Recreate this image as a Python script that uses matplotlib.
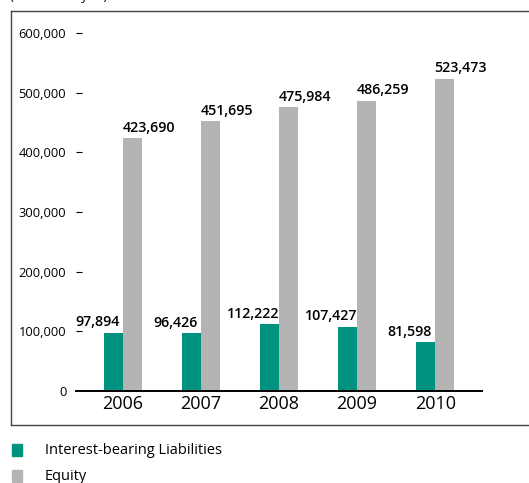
import matplotlib
matplotlib.use("Agg")
import matplotlib.pyplot as plt
import numpy as np
from matplotlib.lines import Line2D
from matplotlib.patches import Rectangle

plt.rcParams['font.family'] = ['Open Sans', 'DejaVu Sans']

years = ["2006", "2007", "2008", "2009", "2010"]
liabilities = [97894, 96426, 112222, 107427, 81598]
equity = [423690, 451695, 475984, 486259, 523473]
y_ticks = [0, 100000, 200000, 300000, 400000, 500000, 600000]
series_names = ["Interest-bearing Liabilities", "Equity"]
unit_text = "(Millions of yen)"

teal = "#00927f"
gray = "#b4b4b4"

W, H = 529, 483
fig = plt.figure(figsize=(W / 100, H / 100), dpi=100)

# frame around the chart area
def fx(px):
    return px / W

def fy(py):
    return 1 - py / H

fig.add_artist(Line2D([fx(10.5), fx(10.5)], [fy(10.5), fy(424.5)], color="#444444", lw=1.0))
fig.add_artist(Line2D([fx(10.5), 1.0], [fy(10.5), fy(10.5)], color="#444444", lw=1.0))
fig.add_artist(Line2D([fx(10.5), 1.0], [fy(424.5), fy(424.5)], color="#444444", lw=1.0))

fig.text(fx(10), fy(0), unit_text, fontsize=9.5, ha="left", va="baseline")

ax = fig.add_axes([fx(76), fy(391), fx(482) - fx(76), fy(33) - fy(391)])
x = np.arange(len(years))
bw = 0.24
ax.bar(x - bw / 2, liabilities, width=bw, color=teal, linewidth=0)
ax.bar(x + bw / 2, equity, width=bw, color=gray, linewidth=0)

for xi, v in zip(x, liabilities):
    ax.annotate(f"{v:,}", (xi - 0.33, v), xytext=(0, 2.5), textcoords="offset points",
                ha="center", va="bottom", fontsize=10.3, fontweight="semibold")
for xi, v in zip(x, equity):
    ax.annotate(f"{v:,}", (xi + 0.33, v), xytext=(0, 2.5), textcoords="offset points",
                ha="center", va="bottom", fontsize=10.3, fontweight="semibold")

ax.set_xlim(-0.6, 4.6)
ax.set_ylim(0, 600000)
ax.set_yticks(y_ticks)
ax.set_yticklabels([f"{t:,}" for t in y_ticks], fontsize=9.3)
ax.set_xticks(x)
ax.set_xticklabels(years, fontsize=13)
ax.tick_params(axis="x", length=0, pad=3)
ax.tick_params(axis="y", direction="in", length=4.5, width=0.8, pad=7)
for s in ["top", "right", "left"]:
    ax.spines[s].set_visible(False)
ax.spines["bottom"].set_linewidth(1.4)
ax.yaxis.get_major_ticks()[0].tick1line.set_visible(False)

# legend
for i, (name, col) in enumerate(zip(series_names, [teal, gray])):
    yc = 450 + i * 26
    fig.add_artist(Rectangle((fx(12), fy(yc + 6)), fx(22) - fx(12), fy(yc - 6) - fy(yc + 6),
                             color=col, transform=fig.transFigure))
    fig.text(fx(45), fy(yc), name, fontsize=10.5, ha="left", va="center")

fig.savefig("out.png", dpi=100)
